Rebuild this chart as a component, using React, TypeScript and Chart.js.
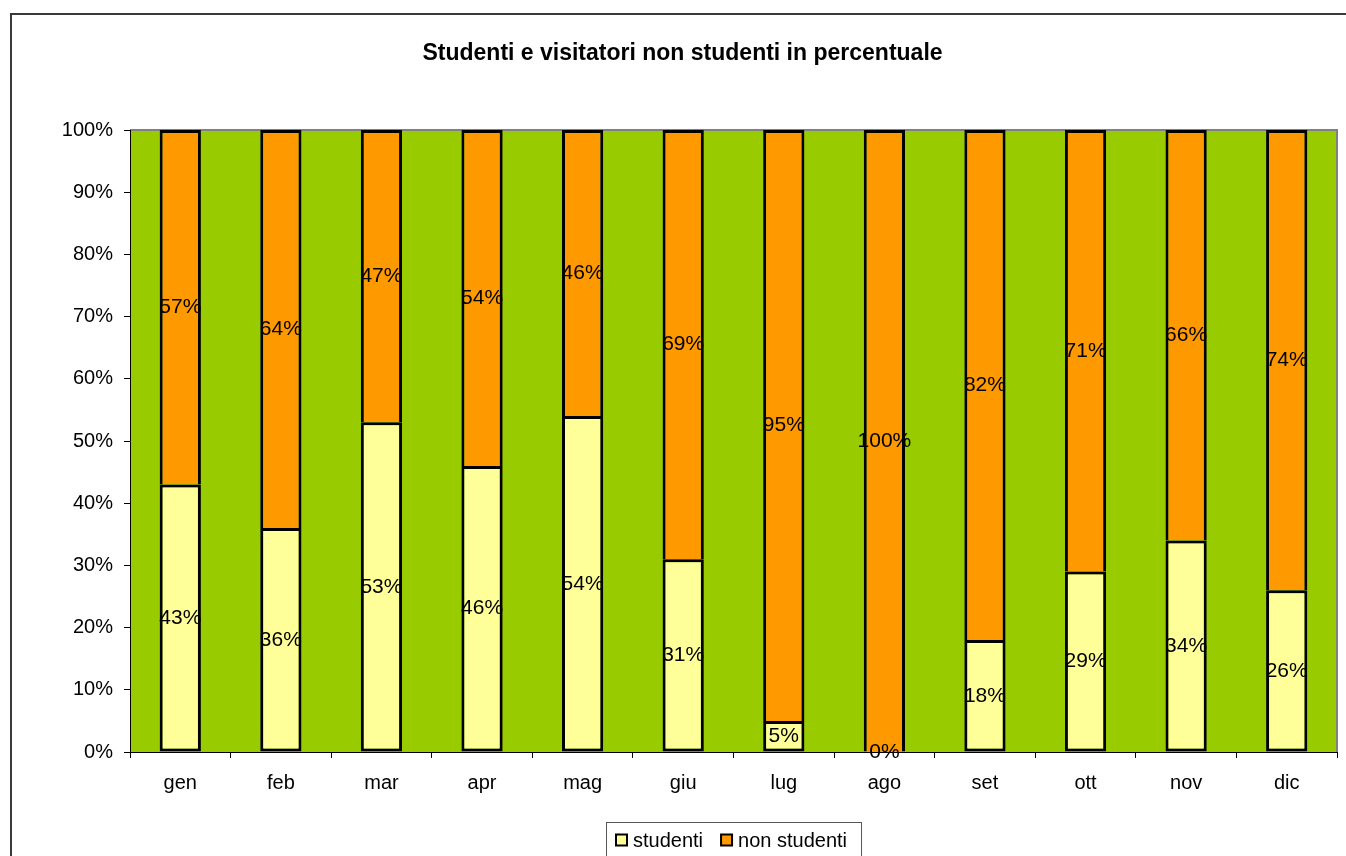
import React, { useEffect, useRef } from "react";
import { Chart, registerables } from "chart.js";

Chart.register(...registerables);

const TITLE = "Studenti e visitatori non studenti in percentuale";
const MONTHS = ["gen", "feb", "mar", "apr", "mag", "giu", "lug", "ago", "set", "ott", "nov", "dic"];
const STUDENTI = [43, 36, 53, 46, 54, 31, 5, 0, 18, 29, 34, 26];
const NON_STUDENTI = [57, 64, 47, 54, 46, 69, 95, 100, 82, 71, 66, 74];
const Y_TICK_STEP = 10;
const SERIES_NAMES = ["studenti", "non studenti"];

const FONT = "'Liberation Sans', Arial, Helvetica, sans-serif";

const bgPlugin = {
  id: "bgPlugin",
  beforeDraw(chart: any) {
    const { ctx, chartArea } = chart;
    ctx.save();
    ctx.fillStyle = "#ffffff";
    ctx.fillRect(0, 0, chart.width, chart.height);
    // outer frame
    ctx.strokeStyle = "#3a3a3a";
    ctx.lineWidth = 2;
    ctx.strokeRect(11, 14, chart.width + 50, chart.height + 50);
    // plot area
    ctx.fillStyle = "#99CC00";
    ctx.fillRect(chartArea.left, chartArea.top, chartArea.right - chartArea.left, chartArea.bottom - chartArea.top);
    ctx.strokeStyle = "#808080";
    ctx.lineWidth = 2;
    ctx.beginPath();
    ctx.moveTo(chartArea.left, chartArea.top);
    ctx.lineTo(chartArea.right, chartArea.top);
    ctx.lineTo(chartArea.right, chartArea.bottom);
    ctx.stroke();
    ctx.restore();
  },
};

const labelPlugin = {
  id: "labelPlugin",
  afterDatasetsDraw(chart: any) {
    const { ctx } = chart;
    ctx.save();
    ctx.font = `21px ${FONT}`;
    ctx.fillStyle = "#000";
    ctx.textAlign = "center";
    ctx.textBaseline = "middle";
    chart.data.datasets.forEach((ds: any, di: number) => {
      const meta = chart.getDatasetMeta(di);
      meta.data.forEach((el: any, i: number) => {
        const v = ds.data[i];
        const cy = (el.y + el.base) / 2;
        ctx.fillText(`${v}%`, el.x, cy);
      });
    });
    ctx.restore();
  },
};

const legendPlugin = {
  id: "legendPlugin",
  afterDraw(chart: any) {
    const { ctx, chartArea } = chart;
    ctx.save();
    ctx.font = `20px ${FONT}`;
    const pad = 10;
    const box = 11;
    const gap = 6;
    const itemGap = 18;
    const items = chart.data.datasets.map((ds: any) => ({
      text: ds.label,
      color: ds.backgroundColor,
      w: ctx.measureText(ds.label).width,
    }));
    let total = pad * 2 + 4;
    items.forEach((it: any, i: number) => {
      total += box + gap + it.w + (i > 0 ? itemGap : 0);
    });
    const cx = (chartArea.left + chartArea.right) / 2;
    const left = Math.round(cx - total / 2);
    const top = 822;
    const cy = 840;
    ctx.fillStyle = "#fff";
    ctx.fillRect(left, top, total, 60);
    ctx.strokeStyle = "#555";
    ctx.lineWidth = 1;
    ctx.strokeRect(left + 0.5, top + 0.5, total, 60);
    let x = left + pad;
    ctx.textBaseline = "middle";
    ctx.textAlign = "left";
    items.forEach((it: any, i: number) => {
      if (i > 0) x += itemGap;
      ctx.fillStyle = it.color;
      ctx.fillRect(x, cy - box / 2, box, box);
      ctx.strokeStyle = "#000";
      ctx.lineWidth = 2;
      ctx.strokeRect(x, cy - box / 2, box, box);
      x += box + gap;
      ctx.fillStyle = "#000";
      ctx.fillText(it.text, x, cy + 1);
      x += it.w;
    });
    ctx.restore();
  },
};

export default function App() {
  const ref = useRef<HTMLCanvasElement | null>(null);
  useEffect(() => {
    if (!ref.current) return;
    const chart = new Chart(ref.current, {
      type: "bar",
      data: {
        labels: MONTHS,
        datasets: [
          {
            label: SERIES_NAMES[0],
            data: STUDENTI,
            backgroundColor: "#FFFF99",
            borderColor: "#000",
            borderWidth: 3,
            borderSkipped: false,
            barPercentage: 0.41,
            categoryPercentage: 1,
          },
          {
            label: SERIES_NAMES[1],
            data: NON_STUDENTI,
            backgroundColor: "#FF9900",
            borderColor: "#000",
            borderWidth: 3,
            borderSkipped: "start",
            barPercentage: 0.41,
            categoryPercentage: 1,
          },
        ],
      },
      options: {
        responsive: false,
        animation: false,
        layout: { padding: { left: 28, right: 9, top: 0, bottom: 62 } },
        plugins: {
          legend: { display: false },
          tooltip: { enabled: false },
          title: {
            display: true,
            text: TITLE,
            color: "#000",
            font: { family: FONT, size: 23, weight: "bold" },
            padding: { top: 40, bottom: 62.4 },
          },
        },
        scales: {
          x: {
            stacked: true,
            grid: { display: true, drawOnChartArea: false, drawTicks: true, tickLength: 6, color: "#000", offset: true },
            border: { display: true, color: "#000", width: 1 },
            ticks: { color: "#000", font: { family: FONT, size: 20 }, padding: 13, maxRotation: 0 },
            afterFit: (s: any) => {
              s.height = 42;
            },
          },
          y: {
            stacked: true,
            min: 0,
            max: 100,
            grid: { display: true, drawOnChartArea: false, drawTicks: true, tickLength: 6, color: "#000" },
            border: { display: true, color: "#000", width: 1 },
            ticks: {
              stepSize: Y_TICK_STEP,
              color: "#000",
              font: { family: FONT, size: 20 },
              padding: 11,
              callback: (v: any) => `${v}%`,
            },
            afterFit: (s: any) => {
              s.width = 102;
            },
          },
        },
      },
      plugins: [bgPlugin, labelPlugin, legendPlugin],
    });
    return () => chart.destroy();
  }, []);
  return (
    <div style={{ position: "absolute", left: 0, top: 0, width: 1346, height: 856, background: "#fff" }}>
      <canvas ref={ref} width={1346} height={856} style={{ display: "block" }} />
    </div>
  );
}
